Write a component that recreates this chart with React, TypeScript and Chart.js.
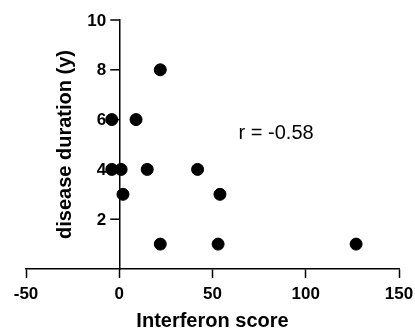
import React, { useEffect, useRef } from "react";
import { Chart, registerables } from "chart.js";

Chart.register(...registerables);

const interferonScore = [-4, 9, 22, -4, 1, 15, 42, 2, 54, 22, 53, 127];
const diseaseDuration = [6, 6, 8, 4, 4, 4, 4, 3, 3, 1, 1, 1];
const xTitle = "Interferon score";
const yTitle = "disease duration (y)";
const annotationText = "r = -0.58";
const annotationX = 64;
const annotationY = 5.45;

const FONT = "Arial, 'Liberation Sans', sans-serif";
const TICK_LEN = 9;

const overlayPlugin = {
  id: "overlay",
  afterDraw(chart: any) {
    const { ctx, chartArea, scales } = chart;
    const xs = scales.x;
    const ys = scales.y;
    const axisX = xs.getPixelForValue(0);
    ctx.save();
    ctx.strokeStyle = "#000";
    ctx.lineWidth = 1.5;
    ctx.fillStyle = "#000";
    ctx.font = `bold 17px ${FONT}`;
    ctx.textAlign = "right";
    ctx.textBaseline = "middle";
    for (const t of ys.ticks) {
      if (t.value === 0) continue;
      const py = ys.getPixelForValue(t.value);
      ctx.beginPath();
      ctx.moveTo(axisX, py);
      ctx.lineTo(axisX - TICK_LEN, py);
      ctx.stroke();
      ctx.fillText(String(t.value), axisX - TICK_LEN - 4, py + 1);
    }
    ctx.font = `normal 20px ${FONT}`;
    ctx.textAlign = "left";
    ctx.fillText(annotationText, xs.getPixelForValue(annotationX), ys.getPixelForValue(annotationY));
    ctx.translate(65, (chartArea.top + chartArea.bottom) / 2);
    ctx.rotate(-Math.PI / 2);
    ctx.font = `bold 20px ${FONT}`;
    ctx.textAlign = "center";
    ctx.fillText(yTitle, 0, 0);
    ctx.restore();
  },
};

export default function App() {
  const ref = useRef<HTMLCanvasElement | null>(null);
  useEffect(() => {
    if (!ref.current) return;
    const chart = new Chart(ref.current, {
      type: "scatter",
      data: {
        datasets: [
          {
            data: interferonScore.map((x, i) => ({ x, y: diseaseDuration[i] })),
            backgroundColor: "#000",
            borderColor: "#000",
            pointRadius: 6,
            pointHoverRadius: 6,
          },
        ],
      },
      options: {
        animation: false,
        responsive: true,
        maintainAspectRatio: false,
        layout: { padding: { left: 26, right: 16, top: 20, bottom: 0 } },
        plugins: { legend: { display: false }, tooltip: { enabled: false } },
        scales: {
          x: {
            type: "linear",
            position: "bottom",
            min: -50,
            max: 150,
            afterFit: (s: any) => {
              s.paddingRight = 0;
              s.paddingLeft = 0;
            },
            ticks: {
              stepSize: 50,
              color: "#000",
              padding: 8,
              font: { family: FONT, size: 17, weight: "bold", lineHeight: 1 },
            },
            grid: {
              drawOnChartArea: false,
              drawTicks: true,
              tickLength: TICK_LEN,
              tickColor: "#000",
              tickWidth: 1.5,
            },
            border: { color: "#000", width: 1.5 },
            title: {
              display: true,
              text: xTitle,
              color: "#000",
              font: { family: FONT, size: 20, weight: "bold", lineHeight: 1 },
              padding: { top: 0, bottom: 0 },
            },
          },
          y: {
            type: "linear",
            position: { x: 0 },
            min: 0,
            max: 10,
            afterFit: (s: any) => {
              s.paddingTop = 0;
              s.paddingBottom = 0;
              s.paddingRight = 0;
              s.paddingLeft = 0;
            },
            ticks: { stepSize: 2, display: false },
            grid: { drawOnChartArea: false, drawTicks: false },
            border: { color: "#000", width: 1.5 },
            title: { display: false },
          },
        },
      } as any,
      plugins: [overlayPlugin],
    });
    return () => chart.destroy();
  }, []);
  return (
    <div style={{ position: "fixed", left: 0, top: 0, width: 415, height: 331, background: "#fff" }}>
      <canvas ref={ref} />
    </div>
  );
}
